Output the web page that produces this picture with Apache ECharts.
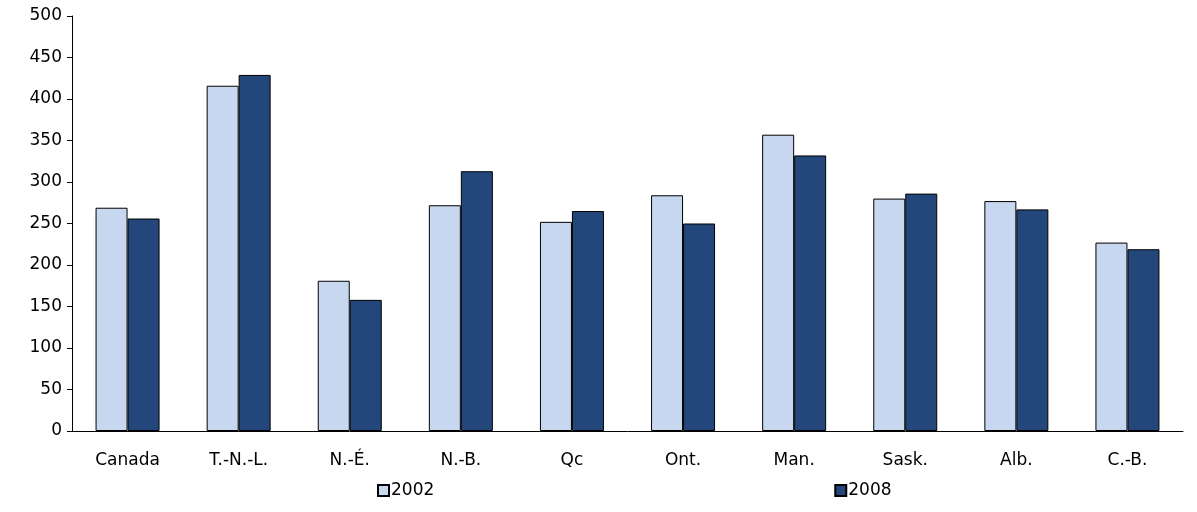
<!DOCTYPE html>
<html><head><meta charset="utf-8">
<script src="https://cdn.jsdelivr.net/npm/echarts@6/dist/echarts.min.js"></script>
<style>html,body{margin:0;padding:0;background:#fff}#c{width:1197px;height:512px}</style>
</head><body><div id="c"></div>
<script>
const categories = ["Canada","T.-N.-L.","N.-É.","N.-B.","Qc","Ont.","Man.","Sask.","Alb.","C.-B."];
const values2002 = [269,416,181,272,252,284,357,280,277,227];
const values2008 = [256,429,158,313,265,250,332,286,267,219];
const yTicks = {min:0,max:500,interval:50};
const chart = echarts.init(document.getElementById('c'));
const font = "DejaVu Sans";
chart.setOption({
  animation:false,
  textStyle:{fontFamily:font},
  grid:{left:72,right:14,top:16,bottom:81},
  legend:{bottom:8,left:372,itemGap:400,itemWidth:11,itemHeight:11,icon:'rect',
    textStyle:{fontFamily:font,fontSize:17,color:'#000',padding:[0,0,0,-3]},
    data:['2002','2008']},
  xAxis:{type:'category',data:categories,
    axisLine:{lineStyle:{color:'#000'}},axisTick:{show:false},
    axisLabel:{color:'#000',fontSize:17,fontFamily:font,margin:21}},
  yAxis:{type:'value',min:yTicks.min,max:yTicks.max,interval:yTicks.interval,
    axisLine:{show:true,lineStyle:{color:'#000'}},axisTick:{show:true,length:5,lineStyle:{color:'#000'}},
    splitLine:{show:false},
    axisLabel:{color:'#000',fontSize:17,fontFamily:font,margin:10}},
  series:[
    {name:'2002',type:'bar',data:values2002,barWidth:32,barGap:'0%',
     itemStyle:{color:'#c6d7ef',borderColor:'#000',borderWidth:1}},
    {name:'2008',type:'bar',data:values2008,barWidth:32,
     itemStyle:{color:'#23477a',borderColor:'#000',borderWidth:1}}
  ]
});
</script></body></html>
